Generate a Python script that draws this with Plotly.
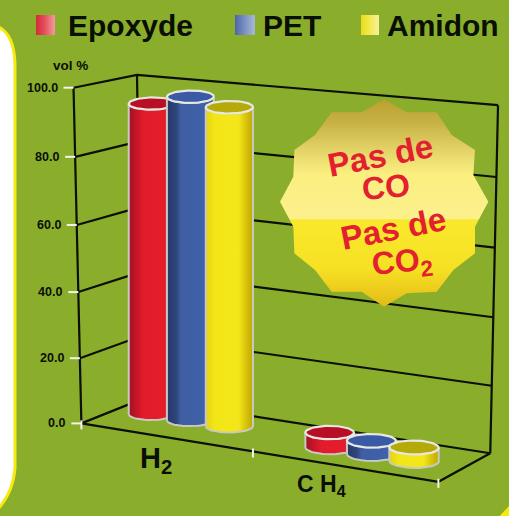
import numpy as np
import plotly.graph_objects as go

# ---- data ----
CATEGORIES = ["H<sub>2</sub>", "C H<sub>4</sub>"]
SERIES = ["Epoxyde", "PET", "Amidon"]
EPOXYDE = [94.0, 4.5]
PET = [97.0, 4.0]
AMIDON = [95.0, 4.0]
TICKS = [0, 20, 40, 60, 80, 100]
TICK_LABELS = ["0.0", "20.0", "40.0", "60.0", "80.0", "100.0"]

VALUES = [EPOXYDE, PET, AMIDON]
W, H = 509, 516
ZMAX = 100.0

# ---- projection of the chart box (u along categories, v depth, w = value/100) ----
CALIB = [((0,0,0),(82,424)),((1,0,0),(438,483)),((1,1,0),(490,452)),((0,1,0),(142,400)),
         ((0,0,1),(73,89)),((0,1,1),(137,75)),((1,1,1),(498,105)),
         ((0,0,.8),(75,156)),((0,0,.6),(77,224)),((0,0,.2),(80,357)),
         ((1,1,.8),(497,178)),((1,1,.6),(495,247)),((1,1,.4),(493,317)),((1,1,.2),(492,386))]
rows = []
for (X, Y, Z), (px, py) in CALIB:
    a, b = px/500, py/500
    rows.append([X,Y,Z,1,0,0,0,0,-a*X,-a*Y,-a*Z,-a])
    rows.append([0,0,0,0,X,Y,Z,1,-b*X,-b*Y,-b*Z,-b])
P = np.linalg.svd(np.array(rows, float))[2][-1].reshape(3,4)

def project(u, v, val):
    q = P @ np.array([u, v, val/ZMAX, 1.0], dtype=float)
    return q[0]/q[2]*500, q[1]/q[2]*500

def polyline(pts):
    xs, ys = [], []
    for p in pts:
        x, y = project(*p)
        xs.append(x); ys.append(y)
    return xs, ys

fig = go.Figure()

def add_lines(segments, color, width):
    xs, ys = [], []
    for seg in segments:
        a, b = polyline(seg)
        xs += a + [None]; ys += b + [None]
    fig.add_trace(go.Scatter(x=xs, y=ys, mode="lines", line=dict(color=color, width=width),
                             hoverinfo="skip", showlegend=False))

# frame and gridlines
segs = [[(0,0,t),(0,1,t),(1,1,t)] for t in TICKS]
segs += [[(0,0,0),(0,0,ZMAX)], [(0,1,0),(0,1,ZMAX)], [(1,1,0),(1,1,ZMAX)],
         [(0,0,0),(1,0,0),(1,1,0)]]
add_lines(segs, "#0b0f05", 2.2)

# white ticks
tx, ty = [], []
for t in TICKS:
    x, y = project(0, 0, t)
    tx += [x-10, x, None]; ty += [y, y, None]
for u in (0, .5, 1):
    x, y = project(u, 0, 0)
    tx += [x, x, None]; ty += [y-3, y+6, None]
fig.add_trace(go.Scatter(x=tx, y=ty, mode="lines", line=dict(color="#f4f4ea", width=2),
                         hoverinfo="skip", showlegend=False))

# starburst
BURST = [(372,58),(440,97),(530,97),(575,165),(645,210),(640,285),(685,365),(645,440),(645,520),
         (580,570),(530,635),(440,640),(372,680),(305,635),(215,635),(165,570),(103,520),(100,440),
         (60,365),(100,290),(103,210),(165,165),(215,97),(305,97),(372,58)]
BURST_SCALE = [[0,"#b9a030"],[.12,"#c9b347"],[.24,"#e2d266"],[.36,"#fbef80"],[.578,"#fbf08c"],
               [.58,"#f9e92c"],[.82,"#f6e024"],[.93,"#ecc91c"],[1,"#dcbc18"]]
fig.add_trace(go.Scatter(
    x=[260+a/3 for a, _ in BURST], y=[80+b/3 for _, b in BURST], mode="lines",
    line=dict(width=0), fill="toself", hoverinfo="skip", showlegend=False,
    fillgradient=dict(type="vertical", colorscale=[[round(1-p, 4), c] for p, c in BURST_SCALE[::-1]])))

# cylinders: drawn upright on the floor, value height
GROUP_U = [0.217, 0.757]
GROUP_V = [0.6, 0.45]
OFFSET_U = [-0.115, 0.0, 0.115]
RU, RV = 0.0588, 0.2134
BODY = [[[0,"#a01226"],[.2,"#cc1528"],[.32,"#e21c2c"],[.8,"#e41d2b"],[1,"#cf1a28"]],
        [[0,"#28396b"],[.2,"#2f4579"],[.3,"#3f5ea4"],[.85,"#4061a8"],[1,"#3a5899"]],
        [[0,"#e6d410"],[.2,"#f2e618"],[.7,"#f3e619"],[.85,"#d8c40c"],[1,"#bfa800"]]]
CAP = ["#b80f26", "#3a5aa6", "#b5aa0a"]
TH = np.linspace(0, 2*np.pi, 73)
for g, cu in enumerate(GROUP_U):
    for s, vals in enumerate(VALUES):
        u0 = cu + OFFSET_U[s]
        v0 = GROUP_V[g]
        val = vals[g]
        bot = polyline([(u0+RU*np.cos(t), v0+RV*np.sin(t), 0) for t in TH])
        _, y0 = project(u0, v0, 0)
        _, y1 = project(u0, v0, val)
        top = (list(bot[0]), [y + (y1-y0) for y in bot[1]])
        il = int(np.argmin(top[0][:-1])); ir = int(np.argmax(top[0][:-1]))
        ringb = list(zip(*bot))[:-1]; ringt = list(zip(*top))[:-1]
        n = len(ringb)
        def arc(ring, a, b):
            out = [ring[a]]; i = a
            while i != b:
                i = (i+1) % n; out.append(ring[i])
            return out
        a1 = arc(ringb, il, ir); a2 = arc(ringb, ir, il)
        front = a1 if np.mean([p[1] for p in a1]) > np.mean([p[1] for p in a2]) else a2[::-1]
        t1 = arc(ringt, il, ir); t2 = arc(ringt, ir, il)
        tfront = t1 if np.mean([p[1] for p in t1]) > np.mean([p[1] for p in t2]) else t2[::-1]
        poly = front + tfront[::-1] + [front[0]]
        fig.add_trace(go.Scatter(x=[p[0] for p in poly], y=[p[1] for p in poly], mode="lines",
                                 line=dict(color="#c9c9c4", width=2), fill="toself",
                                 fillgradient=dict(type="horizontal", colorscale=BODY[s]),
                                 hoverinfo="skip", showlegend=False))
        fig.add_trace(go.Scatter(x=top[0], y=top[1], mode="lines", fill="toself", fillcolor=CAP[s],
                                 line=dict(color="#e8e8e2", width=2.2),
                                 hoverinfo="skip", showlegend=False))

# legend swatches
SWATCH = [(36,55),(235,255),(361,379)]
SWCOL = [[[0,"#d42a38"],[.45,"#e2505c"],[1,"#f39aa0"]],
         [[0,"#4c66a6"],[.5,"#7c92c4"],[1,"#aab8d8"]],
         [[0,"#e9dc1c"],[.5,"#f3ea50"],[1,"#f6f0a0"]]]
for (a, b), cs in zip(SWATCH, SWCOL):
    fig.add_trace(go.Scatter(x=[a,b,b,a,a], y=[15,15,35,35,15], mode="lines", line=dict(width=0),
                             fill="toself", fillgradient=dict(type="horizontal", colorscale=cs),
                             hoverinfo="skip", showlegend=False))

FONT = "Liberation Sans"
ann = []
def text(x, y, s, size, color="#0a0f04", xanchor="center", angle=0):
    ann.append(dict(x=x, y=y, xref="x", yref="y", text=s, showarrow=False, xanchor=xanchor,
                    yanchor="middle", textangle=angle,
                    font=dict(family=FONT, size=size, color=color)))
BOLD = lambda s: f"<b>{s}</b>"
for name, x in zip(SERIES, (66, 261, 385)):
    text(x, 25, BOLD(name), 30, xanchor="left")
text(70, 65, BOLD("vol %"), 13.5)
for t, lab in zip(TICKS, TICK_LABELS):
    x, y = project(0, 0, t)
    text(x-14, y, BOLD(lab), 12.5, xanchor="right")
text(156, 460, BOLD(CATEGORIES[0]), 29)
text(321, 485, BOLD(CATEGORIES[1]), 23)
RED = "#e2202f"
text(380, 155, BOLD("Pas de"), 33, RED, angle=-11)
text(386, 187, BOLD("CO"), 32, RED, angle=-5)
text(393, 228, BOLD("Pas de"), 33, RED, angle=-11)
text(402, 263, BOLD("CO<sub>2</sub>"), 32, RED, angle=-6)

shapes = [
    dict(type="path", path="M -4,26 Q 14,32 15,64 L 15,468 Q 13,494 -4,511 Z",
         fillcolor="#ffffff", line=dict(color="#f6ea10", width=3), xref="x", yref="y", layer="below"),
    dict(type="path", path="M 512,503 Q 505,510 497,519 L 512,519 Z",
         fillcolor="#f6ea10", line=dict(width=0), xref="x", yref="y", layer="below"),
]
GREEN = "#8aae2b"
fig.update_layout(width=W, height=H, margin=dict(l=0, r=0, t=0, b=0), paper_bgcolor=GREEN,
                  plot_bgcolor=GREEN, showlegend=False, annotations=ann, shapes=shapes,
                  xaxis=dict(range=[0, W], visible=False, fixedrange=True),
                  yaxis=dict(range=[H, 0], visible=False, fixedrange=True))
fig.write_html("out.html", config=dict(displayModeBar=False),
               post_script="document.body.style.margin='0';document.body.style.overflow='hidden';")
